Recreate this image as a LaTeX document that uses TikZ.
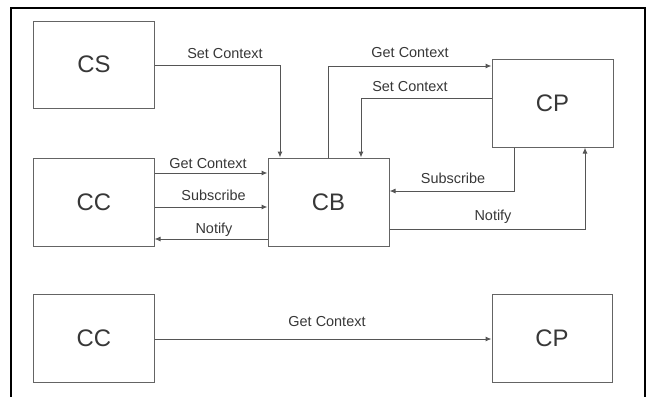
\documentclass[tikz,border=0pt]{standalone}
\usepackage{fontspec}
\setmainfont{Liberation Sans}
\usetikzlibrary{arrows.meta}
\definecolor{textgray}{RGB}{55,55,55}
\definecolor{boxgray}{RGB}{100,100,100}
\definecolor{linegray}{RGB}{85,85,85}
\begin{document}
\begin{tikzpicture}[x=1bp,y=-1bp,
  box/.style={draw=boxgray, line width=1bp, minimum width=120bp, minimum height=88bp, inner sep=0pt, font=\fontsize{24}{24}\selectfont, text=textgray},
  conn/.style={draw=linegray, line width=1bp, -{Latex[length=6bp,width=5bp]}},
  lbl/.style={font=\fontsize{14.5}{14.5}\selectfont, text=textgray, inner sep=0pt, anchor=base}]
\useasboundingbox (0,0) rectangle (649,396);
\begin{scope}
\clip (0,0) rectangle (649,396);
\draw[line width=2.5bp] (11,400) -- (11,8) -- (645,8) -- (645,400);
\end{scope}
\node[box, minimum height=87bp] (CS) at (94,64.5) {CS};
\node[box] (CC1) at (94,202) {CC};
\node[box] (CC2) at (94,338) {CC};
\node[box, minimum width=121bp] (CB) at (328.5,202) {CB};
\node[box, minimum width=121bp] (CP1) at (552.5,103) {CP};
\node[box] (CP2) at (552,338) {CP};
% CS -> CB
\draw[conn] (CS.east |- 0,65) -| (CB.north -| 280,0);
\node[lbl] (l1) at (225,58) {Set Context};
% CC <-> CB
\draw[conn] (CC1.east |- 0,173) -- (CB.west |- 0,173);
\node[lbl] (l2) at (208,168) {Get Context};
\draw[conn] (CC1.east |- 0,207) -- (CB.west |- 0,207);
\node[lbl] (l3) at (213.5,200) {Subscribe};
\draw[conn] (CB.west |- 0,239) -- (CC1.east |- 0,239);
\node[lbl] (l4) at (214,233) {Notify};
% CB <-> CP
\draw[conn] (CB.north -| 328,0) |- (CP1.west |- 0,66);
\node[lbl] (l5) at (410,57) {Get Context};
\draw[conn] (CP1.west |- 0,98) -| (CB.north -| 361,0);
\node[lbl] (l6) at (410,91) {Set Context};
\draw[conn] (CP1.south -| 514,0) |- (CB.east |- 0,191);
\node[lbl] (l7) at (453,183) {Subscribe};
\draw[conn] (CB.east |- 0,229) -| (CP1.south -| 585,0);
\node[lbl] (l8) at (493,220) {Notify};
% bottom
\draw[conn] (CC2.east |- 0,339) -- (CP2.west |- 0,339);
\node[lbl] (l9) at (327,326) {Get Context};
\end{tikzpicture}
\end{document}
